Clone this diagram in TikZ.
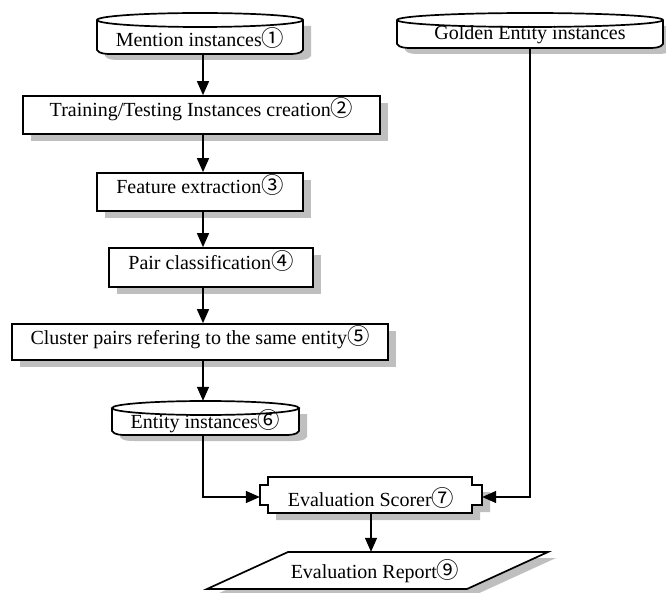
\documentclass[tikz,border=0pt]{standalone}
\usepackage{fontspec}
\setmainfont{Liberation Serif}
\newfontfamily\cjk[Scale=1.12]{Noto Sans CJK JP}
\usetikzlibrary{arrows.meta,shadows}
\newcommand{\cn}[1]{{\cjk #1}}
\begin{document}
\begin{tikzpicture}[x=1pt,y=-1pt,
  font=\fontsize{20}{22}\selectfont,
  shapeline/.style={draw=black,line width=1.7pt,fill=white,line join=miter},
  shadowfill/.style={fill=black!25,draw=none},
  boxnode/.style={draw=black,line width=1.7pt,fill=white,inner sep=0pt,
    text height=13pt,text depth=9pt,
    drop shadow={shadow xshift=8pt,shadow yshift=-7pt,fill=black!25,opacity=1}},
  ghost/.style={draw=none,inner sep=0pt},
  arr/.style={line width=1.4pt,-{Triangle[width=12pt,length=14pt]}}]
\useasboundingbox (0,0) rectangle (666,593);
\coordinate (axis) at (203,0);

% ---- cylinders (shadow, body) ----
% Mention instances: x 97..303, y 13..54
\fill[shadowfill,shift={(8,6)}] (97,20) -- (97,50) .. controls (99,54) and (107,54) .. (111,54) -- (289,54) .. controls (293,54) and (301,54) .. (303,50) -- (303,20) -- cycle;
\draw[shapeline] (97,20) -- (97,50) .. controls (99,54) and (107,54) .. (111,54) -- (289,54) .. controls (293,54) and (301,54) .. (303,50) -- (303,20);
\draw[shapeline] (200,20) ellipse [x radius=103pt, y radius=7pt];
\node[ghost,minimum width=206pt,minimum height=41pt,text height=32pt,text depth=6pt] (mention) at (200,33.5) {Mention instances\cn{①}};

% Golden Entity instances: x 397..663, y 13..48
\fill[shadowfill,shift={(8,6)}] (397,20) -- (397,44) .. controls (399,48) and (407,48) .. (411,48) -- (649,48) .. controls (653,48) and (661,48) .. (663,44) -- (663,20) -- cycle;
\draw[shapeline] (397,20) -- (397,44) .. controls (399,48) and (407,48) .. (411,48) -- (649,48) .. controls (653,48) and (661,48) .. (663,44) -- (663,20);
\draw[shapeline] (530,20) ellipse [x radius=133pt, y radius=7pt];
\node[ghost,minimum width=266pt,minimum height=35pt,text height=25pt,text depth=6pt] (golden) at (530,30.5) {Golden Entity instances};

% Entity instances: x 112..299, y 401..435
\fill[shadowfill,shift={(8,6)}] (112,408) -- (112,431) .. controls (114,435) and (122,435) .. (126,435) -- (285,435) .. controls (289,435) and (297,435) .. (299,431) -- (299,408) -- cycle;
\draw[shapeline] (112,408) -- (112,431) .. controls (114,435) and (122,435) .. (126,435) -- (285,435) .. controls (289,435) and (297,435) .. (299,431) -- (299,408);
\draw[shapeline] (205.5,408) ellipse [x radius=93.5pt, y radius=7pt];
\node[ghost,minimum width=187pt,minimum height=34pt,text height=26pt,text depth=6pt] (entity) at (205.5,418) {Entity instances\cn{⑥}};

% ---- rectangles ----
\node[boxnode,minimum width=357pt,minimum height=38pt] (train) at (201.5,115) {Training/Testing Instances creation\cn{②}};
\node[boxnode,minimum width=206pt,minimum height=38pt] (feat) at (200,192) {Feature extraction\cn{③}};
\node[boxnode,minimum width=204pt,minimum height=39pt] (pair) at (211,267.5) {Pair classification\cn{④}};
\node[boxnode,minimum width=376pt,minimum height=36pt] (cluster) at (200,342) {Cluster pairs refering to the same entity\cn{⑤}};

% ---- Evaluation Scorer ----
\fill[shadowfill,shift={(8,7)}] (268,477) -- (472,477) -- (472,485) -- (482,485) -- (482,505) -- (472,505) -- (472,513) -- (268,513) -- (268,505) -- (260,505) -- (260,485) -- (268,485) -- cycle;
\draw[shapeline] (268,477) -- (472,477) -- (472,485) -- (482,485) -- (482,505) -- (472,505) -- (472,513) -- (268,513) -- (268,505) -- (260,505) -- (260,485) -- (268,485) -- cycle;
\node[ghost,minimum width=222pt,minimum height=36pt,text height=28pt,text depth=6pt] (scorer) at (371,495) {Evaluation Scorer\cn{⑦}};

% ---- Evaluation Report ----
\fill[shadowfill,shift={(8,6)}] (288,552) -- (548,552) -- (467,589) -- (207,589) -- cycle;
\draw[shapeline] (288,552) -- (548,552) -- (467,589) -- (207,589) -- cycle;
\node[ghost,minimum width=180pt,minimum height=37pt,text height=21pt,text depth=6pt] (report) at (375,570.5) {Evaluation Report\cn{⑨}};

% ---- connectors ----
\draw[arr] (mention.south -| axis) -- (train.north -| axis);
\draw[arr] (train.south -| axis) -- (feat.north -| axis);
\draw[arr] (feat.south -| axis) -- (pair.north -| axis);
\draw[arr] (pair.south -| axis) -- (cluster.north -| axis);
\draw[arr] (cluster.south -| axis) -- (entity.north -| axis);
\draw[arr] (entity.south -| axis) |- ([yshift=-2pt]scorer.west);
\draw[arr] (golden.south) |- ([yshift=-2pt]scorer.east);
\draw[arr] (scorer.south) -- (scorer.south |- report.north);
\end{tikzpicture}
\end{document}
